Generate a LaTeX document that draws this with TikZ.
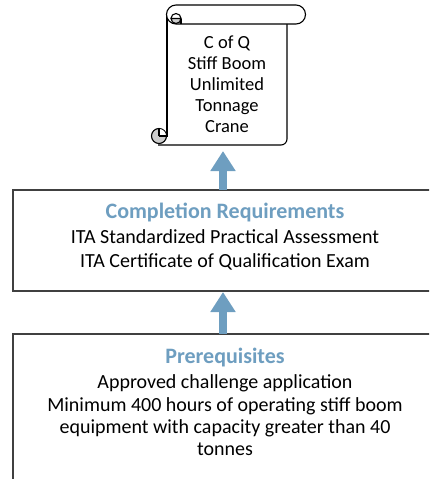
\documentclass[tikz,border=0pt]{standalone}
\usepackage{fontspec}
\setmainfont{Carlito}
\usetikzlibrary{arrows.meta}
\definecolor{accent}{RGB}{110,158,192}
\definecolor{edge}{RGB}{64,64,64}
\definecolor{curl}{RGB}{205,205,205}
\tikzset{
  boxline/.style={draw=edge, line width=1.4pt},
  scrollline/.style={draw=black, line width=1.1pt},
  upflow/.style={draw=accent, line width=8pt, -{Triangle[width=24pt,length=20pt]}},
  lbl/.style={align=center, inner sep=0pt},
  ttl/.style={text=accent, font=\bfseries\fontsize{22pt}{24pt}\selectfont, inner sep=0pt}
}
\begin{document}
\begin{tikzpicture}[x=1pt,y=-1pt]
\useasboundingbox (0,0) rectangle (429,479);
\clip (0,0) rectangle (429,479);
% bottom box
\draw[boxline, fill=white] (13,334) rectangle (440,490);
% middle box
\draw[boxline, fill=white] (13,190) rectangle (440,291);
% scroll body
\fill[white] (167,15) rectangle (287,145);
\draw[scrollline] (167,15) -- (167,137);
\draw[scrollline] (158,145) -- (281,145) arc[start angle=90, end angle=0, radius=6] -- (287,24);
% top roll
\draw[scrollline, fill=white] (176,24) arc[start angle=90, end angle=270, radius=9.5] -- (296,5) arc[start angle=-90, end angle=90, radius=9.5] -- cycle;
\draw[scrollline, fill=curl] (171,18.5) arc[start angle=180, end angle=0, radius=5] -- cycle;
\draw[scrollline] (171,18.5) arc[start angle=180, end angle=360, radius=5];
\draw[scrollline] (181,18.5) -- (181,24);
% bottom curl
\draw[scrollline, fill=curl] (159,136) circle[radius=7.5];
\fill[white] (159,136) -- (166,136) arc[start angle=0, end angle=-90, radius=7] -- cycle;
\draw[scrollline] (159,136) -- (166.5,136);
\draw[scrollline] (159,136) -- (159,129);
% texts
\node[lbl, font=\fontsize{18.5pt}{21pt}\selectfont] (scroll) at (227,84) {C of Q\\Stiff Boom\\Unlimited\\Tonnage\\Crane};
\coordinate (scrollbot) at (223,151);
\node[ttl] (comptitle) at (225,212) {Completion Requirements};
\node[lbl, font=\fontsize{20pt}{24pt}\selectfont] (comp) at (225,250) {ITA Standardized Practical Assessment\\ITA Certificate of Qualification Exam};
\coordinate (comptop) at (223,190);
\coordinate (compbot) at (223,292);
\node[ttl] (pretitle) at (225,358) {Prerequisites};
\node[lbl, font=\fontsize{20pt}{22pt}\selectfont] (pre) at (225,415) {Approved challenge application\\[1pt]Minimum 400 hours of operating stiff boom\\equipment with capacity greater than 40\\tonnes};
\coordinate (pretop) at (223,334);
% arrows
\draw[upflow] (comptop) -- (scrollbot);
\draw[upflow] (pretop) -- (compbot);
\end{tikzpicture}
\end{document}
